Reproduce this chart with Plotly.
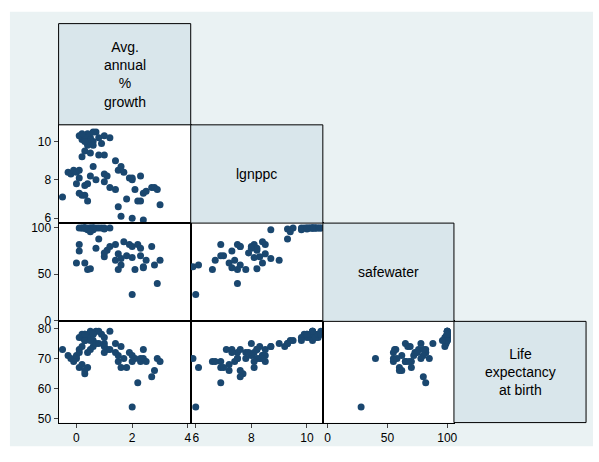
import plotly.graph_objects as go

# popgrowth, lgnppc, safewater, lexp  (None = missing)
popgrowth = [0.3, 0.2, 0.5, 0.4, 0.6, 0.1, 0.7, 0.3, 0.5, 0.4, 0.9, 1.0, 0.2, 0.8, 0.6, 0.4, 1.2, 0.3, 0.6, 1.0,
             -0.5, -0.3, -0.2, 0.0, 0.1, -0.1, 0.2, 0.3, 0.4, 0.3, 0.0, 0.1, 0.2, 0.5, 0.6, 0.4,
             1.0, 1.1, 1.4, 1.5, 1.4, 1.5, 1.6, 1.7, 1.8, 2.0, 1.9, 2.0, 2.1, 2.2, 2.3, 2.4, 2.4, 2.5,
             2.7, 2.8, 2.9, 3.0, 2.3, 1.2, 1.0, 1.6, 0.7, 0.3, 0.5, 0.8, 0.1, 2.0]
lgnppc = [10.3, 10.1, 10.2, 10.4, 10.0, 10.3, 10.5, 10.2, 10.1, 10.0, 9.9, 10.3, 10.4, 10.2, 10.5, 9.8, 10.2, 9.5, 9.8, 9.3,
          7.1, 8.4, 8.3, 7.8, 8.1, 8.5, 7.2, 7.7, 6.9, 7.2, 8.4, 8.5, 9.2, 8.2, 8.7, 7.8,
          8.3, 8.2, 7.5, 8.5, 9.0, 6.6, 6.1, 8.4, 7.0, 6.0, 8.1, 8.0, 7.5, 6.9, 6.9, 7.3, 5.9, 7.4,
          7.6, 7.6, 7.5, 6.7, 8.2, 7.6, 7.9, 8.7, 8.0, 10.0, 9.4, 9.3, 7.3, 8.1]
safewater = [100, 100, 100, 100, 100, 100, 100, 100, 100, 99, 100, 100, 100, 100, 100, 98, 100, 100, 100, 99,
             None, None, None, None, None, None, None, None, None, 62, 62, 82, None, 56, 98, 55,
             69, 76, 82, 72, 65, 55, 60, 85, 70, 28, 82, 80, 55, 82, 70, 57, 58, 65,
             80, 60, 40, 65, 78, 80, 73, 67, 78, 100, 96, 88, 75, 68]
lexp = [78, 77, 79, 77, 78, 77, 79, 76, 78, 77, 78, 77, 78, 79, 78, 77, 79, 76, 76, 75,
        73, 71, 70, 70, 67, 69, 68, 65, 67, 66, 71, 73, 74, 73, 74, 72,
        74, 73, 72, 71, 75, 69, 67, 70, 67, 54, 72, 71, 70, 62, 69, 73, 70, 69,
        64, 66, 70, 69, 70, 73, 72, 74, 75, 78, 76, 75, 72, 69]

variables = [popgrowth, lgnppc, safewater, lexp]
labels = ["Avg.<br>annual<br>%<br>growth", "lgnppc", "safewater", "Life<br>expectancy<br>at birth"]
ranges = [[-0.64, 4.1], [5.82, 10.57], [-4, 105.6], [48.8, 82.3]]
yranges = [[5.74, 10.87], [5.74, 10.87], [-1.1, 105.3], [48.8, 82.3]]
ticks = [[0, 2, 4], [6, 8, 10], [0, 50, 100], [50, 60, 70, 80]]
yticks = [[6, 8, 10], [6, 8, 10], [0, 50, 100], [50, 60, 70, 80]]

W, H = 599, 462
colx = [59, 192, 325, 457, 590]
rowy = [22, 125, 225, 325, 428]

fig = go.Figure()
shapes = [dict(type="rect", xref="paper", yref="paper", x0=10 / W, x1=597 / W, y0=1 - 452 / H, y1=1 - 10 / H,
               fillcolor="#eaf2f3", line=dict(width=0), layer="below")]
annotations = []
n = 0
for i in range(4):
    for j in range(4):
        xd = [colx[j] / W, colx[j + 1] / W]
        yd = [1 - rowy[i + 1] / H, 1 - rowy[i] / H]
        if i == j:
            shapes.append(dict(type="rect", xref="paper", yref="paper", x0=xd[0], x1=xd[1], y0=yd[0], y1=yd[1],
                               fillcolor="#d9e6eb", line=dict(color="black", width=1)))
            annotations.append(dict(x=(xd[0] + xd[1]) / 2, y=(yd[0] + yd[1]) / 2, xref="paper", yref="paper",
                                    xanchor="center", yanchor="middle",
                                    text=labels[i], showarrow=False, font=dict(size=14, color="black")))
            continue
        if j > i:
            continue
        shapes.append(dict(type="rect", xref="paper", yref="paper", x0=xd[0], x1=xd[1], y0=yd[0], y1=yd[1],
                           fillcolor="white", line=dict(width=0), layer="below"))
        n += 1
        ax = "" if n == 1 else str(n)
        xs, ys = [], []
        for a, b in zip(variables[j], variables[i]):
            if a is not None and b is not None:
                xs.append(a)
                ys.append(b)
        fig.add_trace(go.Scatter(x=xs, y=ys, mode="markers", xaxis="x" + ax, yaxis="y" + ax,
                                 marker=dict(color="#1a476f", size=7), showlegend=False))
        showx = i == 3
        showy = j == 0
        fig.layout["xaxis" + ax] = dict(domain=xd, range=ranges[j], anchor="y" + ax, showgrid=False, zeroline=False,
                                        showline=True, mirror=True, linecolor="black", linewidth=1,
                                        tickvals=ticks[j] if showx else [], ticks="outside" if showx else "",
                                        ticklen=4, showticklabels=showx, tickfont=dict(size=12, color="black"))
        fig.layout["yaxis" + ax] = dict(domain=yd, range=yranges[i], anchor="x" + ax, showgrid=False, zeroline=False,
                                        showline=True, mirror=True, linecolor="black", linewidth=1,
                                        tickvals=yticks[i] if showy else [], ticks="outside" if showy else "",
                                        ticklen=4, showticklabels=showy, tickfont=dict(size=12, color="black"),
                                        tickangle=0)

fig.update_layout(width=W, height=H, margin=dict(l=0, r=0, t=0, b=0), paper_bgcolor="white",
                  plot_bgcolor="rgba(0,0,0,0)", shapes=shapes, annotations=annotations,
                  font=dict(family="Liberation Sans, Arial, sans-serif"))
fig.write_html("out.html", config={"displayModeBar": False},
               post_script="document.body.style.margin='0';")
